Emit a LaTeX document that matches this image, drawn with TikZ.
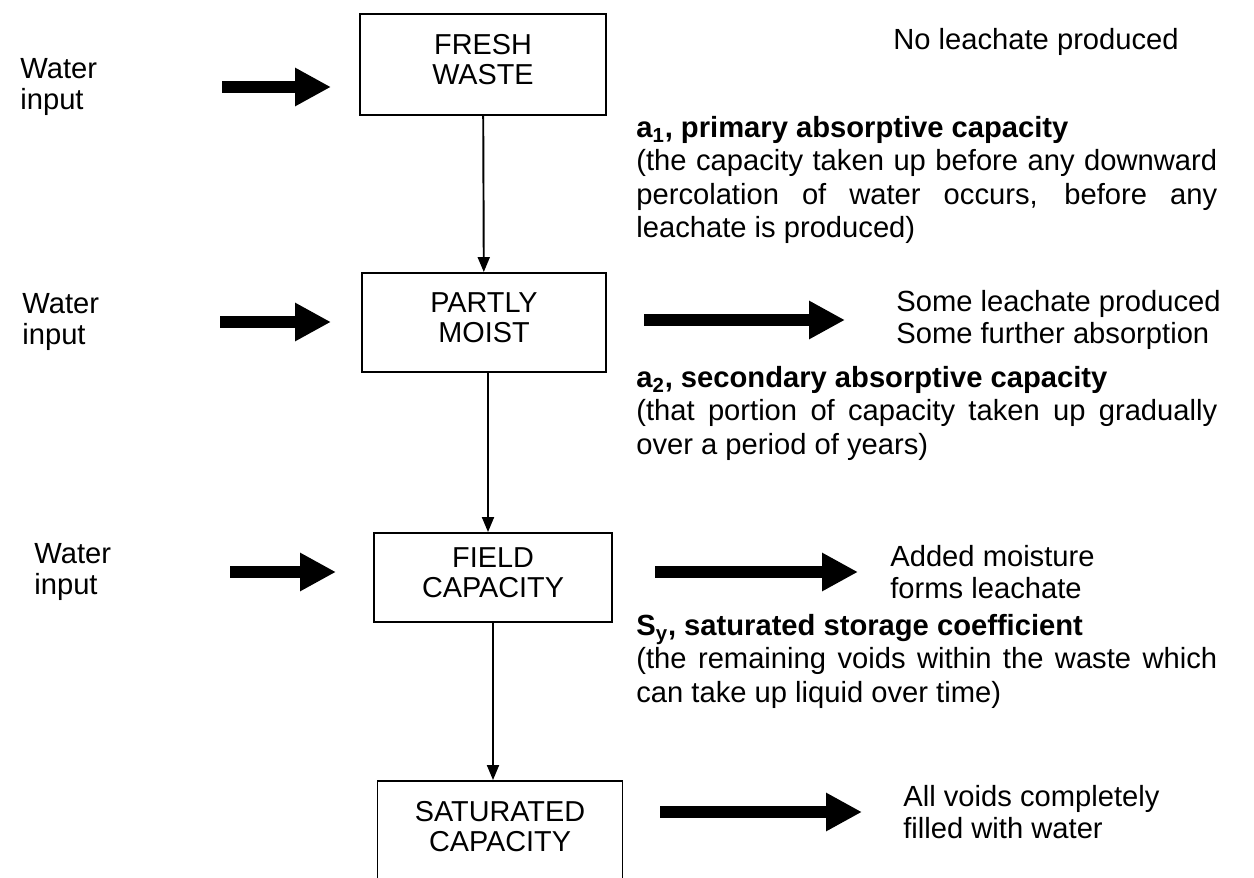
\documentclass[tikz,border=0pt]{standalone}
\usepackage{fontspec}
\setmainfont{Liberation Sans}
\usetikzlibrary{arrows.meta}
\tikzset{
  stage/.style={draw, line width=1.1pt, align=center, inner sep=0pt,
    font=\fontsize{16.4}{17}\selectfont,
    execute at end node={\rule[-6pt]{0pt}{0pt}}},
  flow/.style={-{Triangle[length=0.3cm,width=0.24cm]}, line width=1.1pt},
  fat/.style={line width=0.24cm, -{Triangle[length=0.72cm,width=0.72cm]}},
  lbl/.style={align=left, anchor=west, inner sep=0pt,
    font=\fontsize{16.6}{18}\selectfont},
  note/.style={align=justify, anchor=north west, inner sep=0pt, text width=11.62cm,
    font=\fontsize{16.6}{19}\selectfont}
}
\begin{document}
\begin{tikzpicture}[x=0.02cm, y=-0.02cm]
\useasboundingbox (0,0) rectangle (1254,878);

% stages of moisture in the waste
\node[stage, minimum width=4.92cm, minimum height=2.02cm] (fresh) at (483,64.5) {FRESH\\WASTE};
\node[stage, minimum width=4.88cm, minimum height=1.98cm] (moist) at (484,322.5) {PARTLY\\MOIST};
\node[stage, minimum width=4.76cm, minimum height=1.78cm] (field) at (493,577.5) {FIELD\\CAPACITY};
\node[stage, minimum width=4.9cm, minimum height=2.02cm] (sat) at (500,831.5) {SATURATED\\CAPACITY};

\draw[flow] (fresh) -- (moist);
\draw[flow] ([xshift=0.08cm]moist.south) -- ([xshift=-0.1cm]field.north);
\draw[flow] (field.south) -- ([xshift=-0.14cm]sat.north);

% water input on the left
\node[lbl] (w1) at (20,87) {Water\\input};
\node[lbl] (w2) at (22,322) {Water\\input};
\node[lbl] (w3) at (34,572) {Water\\input};
\coordinate (w1a) at (222,87);  \coordinate (w1b) at (331,87);
\coordinate (w2a) at (220,322); \coordinate (w2b) at (331,322);
\coordinate (w3a) at (230,572); \coordinate (w3b) at (336,572);
\draw[fat] (w1a) -- (w1b);
\draw[fat] (w2a) -- (w2b);
\draw[fat] (w3a) -- (w3b);

% outcomes on the right
\node[lbl] (o1) at (893,42) {No leachate produced};
\node[lbl] (o2) at (896,320) {Some leachate produced\\Some further absorption};
\node[lbl] (o3) at (890,572) {Added moisture\\forms leachate};
\node[lbl] (o4) at (903,812) {All voids completely\\filled with water};
\coordinate (o2a) at (644,320); \coordinate (o2b) at (845,320);
\coordinate (o3a) at (655,572); \coordinate (o3b) at (858,572);
\coordinate (o4a) at (660,812); \coordinate (o4b) at (862,812);
\draw[fat] (o2a) -- (o2b);
\draw[fat] (o3a) -- (o3b);
\draw[fat] (o4a) -- (o4b);

% absorptive capacities
\node[note] (n1) at (636,116) {\textbf{a\textsubscript{1}, primary absorptive capacity}\\
(the capacity taken up before any downward\linebreak percolation of water occurs, before any\linebreak leachate is produced)};
\node[note] (n2) at (636,366) {\textbf{a\textsubscript{2}, secondary absorptive capacity}\\
(that portion of capacity taken up gradually\linebreak over a period of years)};
\node[note] (n3) at (636,614) {\textbf{S\textsubscript{y}, saturated storage coefficient}\\
(the remaining voids within the waste which\linebreak can take up liquid over time)};
\end{tikzpicture}
\end{document}
